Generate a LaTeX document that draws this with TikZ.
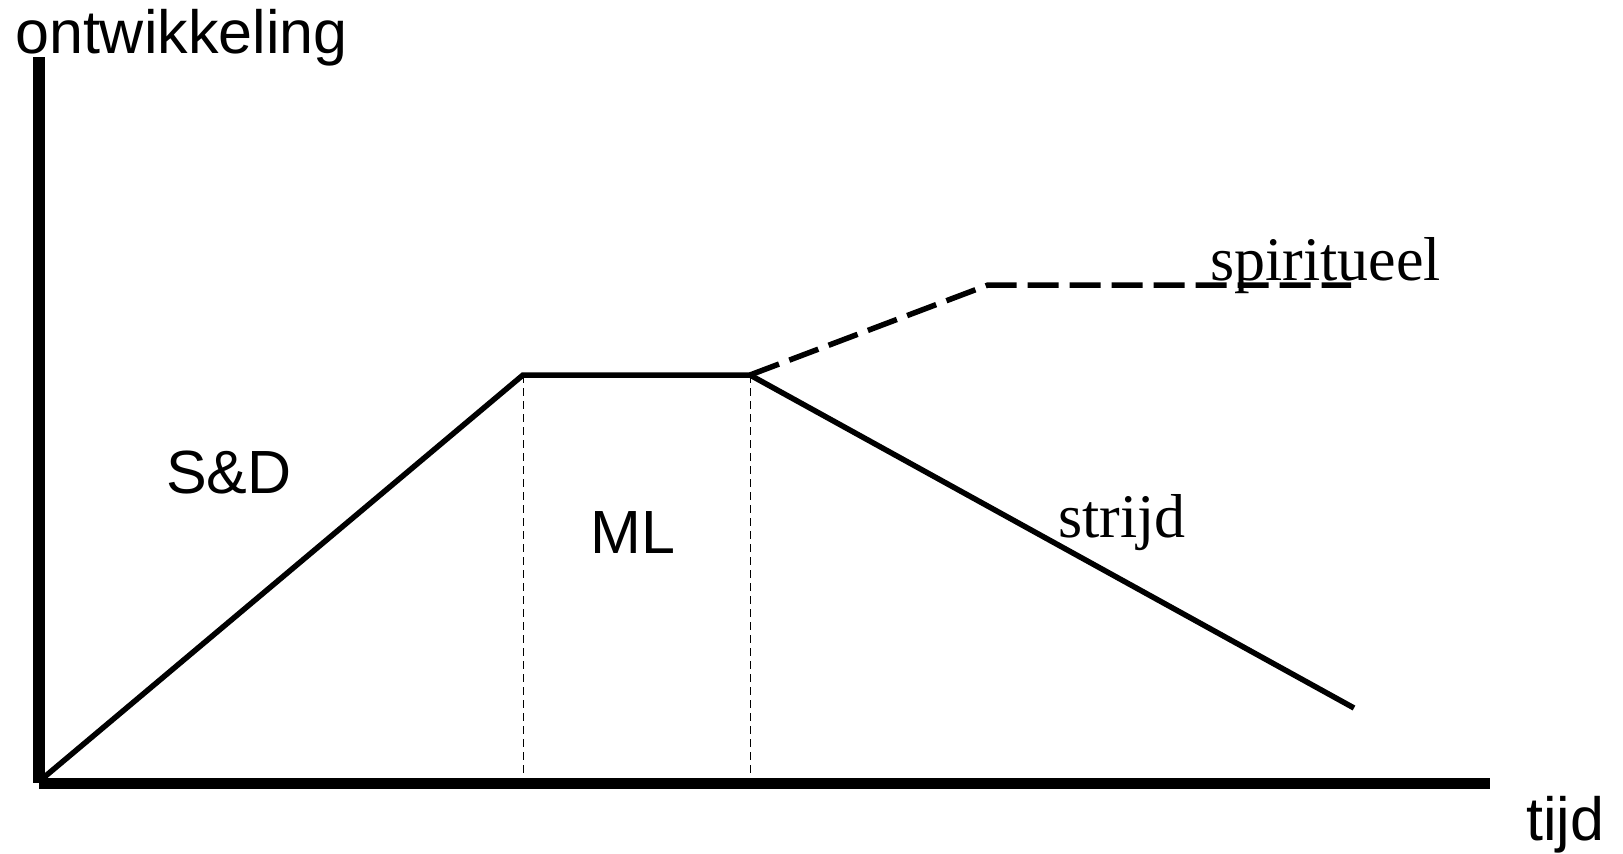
\documentclass[tikz,border=0pt]{standalone}
\usepackage{fontspec}
\setmainfont{Liberation Serif}
\newfontfamily\arialfont{Liberation Sans}
\begin{document}
\begin{tikzpicture}[x=1pt,y=-1pt,
  axisline/.style={line width=12pt},
  profile/.style={line width=5.5pt,line join=miter},
  spirit/.style={line width=5.5pt,dash pattern=on 31pt off 11pt},
  guide/.style={line width=1pt,dash pattern=on 8pt off 5pt},
  sanslabel/.style={font=\arialfont\fontsize{61}{70}\selectfont,anchor=base west,inner sep=0pt},
  seriflabel/.style={font=\fontsize{62}{70}\selectfont,anchor=base west,inner sep=0pt}]
\useasboundingbox (0,0) rectangle (1623,854);
% axes
\coordinate (ytop) at (39,57);
\coordinate (ybot) at (39,783);
\coordinate (xleft) at (39,783.5);
\coordinate (xright) at (1490,783.5);
\draw[axisline] (ytop) -- (ybot);
\draw[line width=11pt] (xleft) -- (xright);
% profile points
\coordinate (o) at (42,779);
\coordinate (p1) at (523,375);
\coordinate (p2) at (750,375);
\coordinate (p3) at (1354,708);
\coordinate (s1) at (988,285);
\coordinate (s2) at (1351,285);
\coordinate (g1) at (523,778);
\coordinate (g2) at (750,778);
\draw[guide] (p1) -- (g1);
\draw[guide] (p2) -- (g2);
\draw[profile] (o) -- (p1) -- (p2) -- (p3);
\draw[spirit] (p2) -- (s1) -- (s2);
% labels
\node[sanslabel] (ont) at (15,53) {ontwikkeling};
\node[sanslabel] (tijd) at (1526,840) {tijd};
\node[sanslabel] (sd) at (166,493) {S\&D};
\node[sanslabel] (ml) at (590,553) {ML};
\node[seriflabel] (spi) at (1210,280) {spiritueel};
\node[seriflabel] (str) at (1058,537) {strijd};
\end{tikzpicture}
\end{document}
